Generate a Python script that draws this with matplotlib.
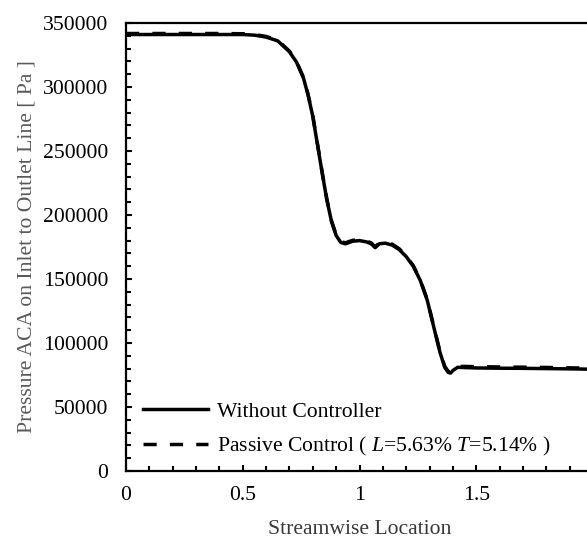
import matplotlib
matplotlib.use("Agg")
import matplotlib.pyplot as plt
from matplotlib.ticker import MultipleLocator

plt.rcParams['font.family'] = ['Liberation Serif', 'DejaVu Serif']
plt.rcParams['mathtext.fontset'] = 'custom'
plt.rcParams['mathtext.rm'] = 'Liberation Serif'
plt.rcParams['mathtext.it'] = 'Liberation Serif:italic'

# Streamwise location
x_loc = [0.0, 0.1, 0.2, 0.3, 0.4, 0.5, 0.55, 0.6, 0.65, 0.7, 0.73, 0.76, 0.78,
         0.80, 0.82, 0.84, 0.86, 0.88, 0.90, 0.92, 0.94, 0.97, 1.00, 1.03,
         1.05, 1.067, 1.085, 1.11, 1.14, 1.17, 1.20, 1.23, 1.26, 1.29, 1.32,
         1.345, 1.365, 1.38, 1.39, 1.40, 1.42, 1.45, 1.5, 1.6, 1.7, 1.8, 1.9, 2.0]

# Pressure without controller [Pa]
p_without = [341000, 341000, 341000, 341000, 341000, 341000, 340500, 339000,
             336000, 327500, 319500, 307000, 293500, 277000, 255000, 233000,
             212000, 195000, 184000, 178500, 177500, 179500, 180000, 179000,
             177500, 174500, 177500, 178000, 176500, 173000, 167500, 160000,
             149000, 133500, 111000, 92500, 81000, 77000, 76500, 78500, 81000,
             80800, 80500, 80300, 80200, 80000, 79800, 79500]

# Pressure with passive control [Pa]
p_passive = [341800, 341800, 341800, 341800, 341800, 341600, 341000, 339500,
             336500, 328000, 320000, 307500, 294000, 277500, 255500, 233500,
             212500, 195500, 184500, 179000, 178300, 180200, 180600, 179700,
             178200, 175200, 178200, 178700, 177200, 173600, 168000, 160500,
             149500, 134000, 111500, 93000, 81800, 77800, 77300, 79300, 81800,
             81700, 81500, 81300, 81100, 80900, 80600, 80300]

label_without = "Without Controller"
label_passive = r"Passive Control ( $L$=5.63% $T$=5.14% )"

FS = 15.6
W, H = 587, 538
fig = plt.figure(figsize=(W / 100, H / 100), dpi=100)
ax = fig.add_axes([126 / W, (H - 471) / H, 467 / W, 448 / H])

ax.plot(x_loc, p_passive, color='black', lw=2.5, dashes=(3.8, 3.8),
        label=label_passive, zorder=2)
ax.plot(x_loc, p_without, color='black', lw=2.5, label=label_without,
        zorder=3)

ax.set_xlim(0, 2)
ax.set_ylim(0, 350000)
ax.xaxis.set_major_locator(MultipleLocator(0.5))
ax.xaxis.set_minor_locator(MultipleLocator(0.1))
ax.yaxis.set_major_locator(MultipleLocator(50000))
ax.yaxis.set_minor_locator(MultipleLocator(10000))
ax.xaxis.set_major_formatter(plt.FuncFormatter(lambda v, p: f"{v:g}"))
ax.yaxis.set_major_formatter(plt.FuncFormatter(lambda v, p: f"{int(v)}"))

ax.tick_params(axis='both', which='both', direction='in', width=1.5,
               colors='black', labelsize=FS)
ax.tick_params(axis='both', which='major', length=4.5)
ax.tick_params(axis='both', which='minor', length=3.5)
ax.tick_params(axis='x', which='major', pad=11)
ax.tick_params(axis='y', which='major', pad=13)
ax.tick_params(top=False, right=False, which='both')

for s in ['left', 'bottom', 'top', 'right']:
    ax.spines[s].set_linewidth(1.6)

leg = ax.legend(handles=[ax.lines[1], ax.lines[0]],
                loc='lower left', bbox_to_anchor=(0.036, 0.028),
                frameon=False, fontsize=FS, handlelength=3.0,
                handletextpad=0.42, labelspacing=0.62, borderaxespad=0,
                borderpad=0)

fig.text(27 / W, 1 - 247 / H, "Pressure ACA on Inlet to Outlet Line [ Pa ]",
         rotation=90, ha='center', va='center', fontsize=FS, color='#595959')
fig.text(360 / W, 1 - 533.5 / H, "Streamwise Location", ha='center',
         va='baseline', fontsize=FS, color='#383838')

fig.savefig("out.png", dpi=100)
